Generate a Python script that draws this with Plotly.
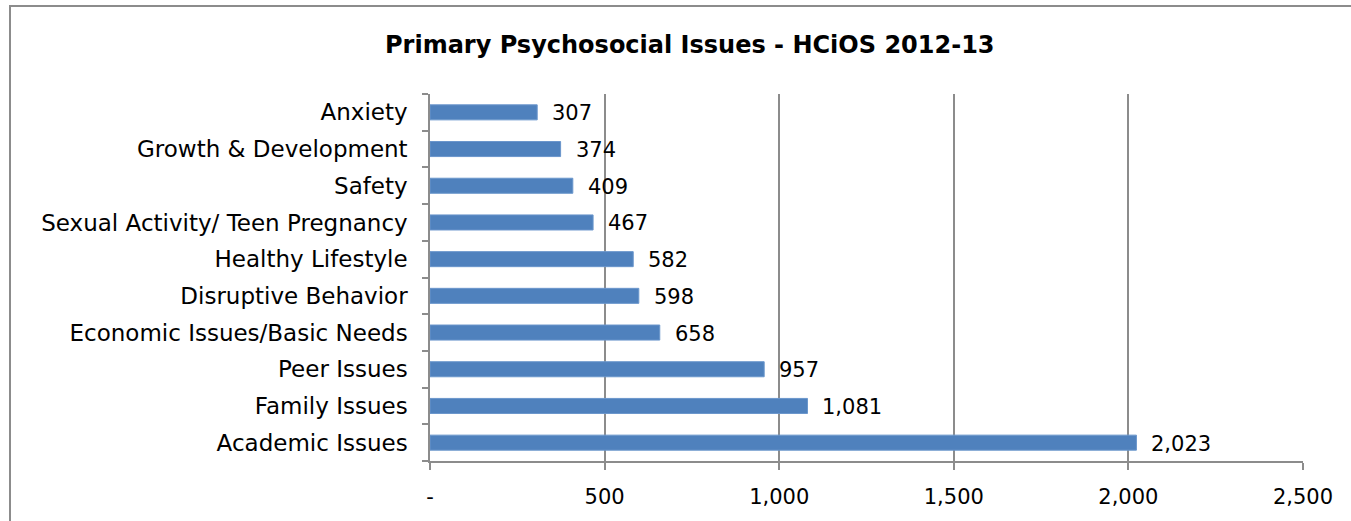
import plotly.graph_objects as go

categories = ["Academic Issues", "Family Issues", "Peer Issues", "Economic Issues/Basic Needs",
              "Disruptive Behavior", "Healthy Lifestyle", "Sexual Activity/ Teen Pregnancy",
              "Safety", "Growth & Development", "Anxiety"]
values = [2023, 1081, 957, 658, 598, 582, 467, 409, 374, 307]
tick_vals = [0, 500, 1000, 1500, 2000, 2500]
tick_text = ["-", "500", "1,000", "1,500", "2,000", "2,500"]
title_text = "Primary Psychosocial Issues - HCiOS 2012-13"

FONT = "Century Gothic, DejaVu Sans, sans-serif"
W, H = 1351, 521
L, R, T, B = 430, 48, 94, 60
pw, ph = W - L - R, H - T - B

fig = go.Figure()
fig.add_trace(go.Bar(
    y=categories, x=values, orientation="h",
    marker=dict(color="#4F81BD", line=dict(color="#6a96cc", width=1)),
    width=0.41, hoverinfo="x+y",
))

annotations = []
for c, v in zip(categories, values):
    annotations.append(dict(x=v, y=c, xref="x", yref="y", text=f"{v:,}", showarrow=False,
                            xanchor="left", yanchor="middle", xshift=13, yshift=-1,
                            font=dict(family=FONT, size=21, color="#000000")))
annotations.append(dict(x=(690 - L) / pw, y=(H - B - 45) / ph, xref="paper", yref="paper",
                        text="<b>" + title_text + "</b>", showarrow=False,
                        xanchor="center", yanchor="middle",
                        font=dict(family=FONT, size=24, color="#000000")))

fig.update_layout(
    width=W, height=H,
    margin=dict(l=L, r=R, t=T, b=B),
    paper_bgcolor="white", plot_bgcolor="white",
    showlegend=False,
    annotations=annotations,
    font=dict(family=FONT, size=20, color="#000000"),
    shapes=[dict(type="rect", xref="paper", yref="paper",
                 x0=(10 - L) / pw, x1=(W + 20 - L) / pw,
                 y0=(H - B - (H + 20)) / ph, y1=(H - B - 6) / ph,
                 line=dict(color="#8c8c8c", width=2), fillcolor="rgba(0,0,0,0)",
                 layer="below")],
    xaxis=dict(range=[0, 2500], tickvals=tick_vals, ticktext=tick_text,
               showgrid=True, gridcolor="#8c8c8c", gridwidth=1.5,
               showline=True, linecolor="#8c8c8c", linewidth=1.5,
               ticks="outside", ticklen=7, tickcolor="#8c8c8c", tickwidth=1.5,
               zeroline=False, ticklabelstandoff=9,
               tickfont=dict(family=FONT, size=21, color="#000000"), fixedrange=True),
    yaxis=dict(categoryorder="array", categoryarray=categories,
               showline=True, linecolor="#8c8c8c", linewidth=1.5,
               ticks="outside", ticklen=6, tickcolor="#8c8c8c", tickwidth=1.5,
               tickson="boundaries", showgrid=False, zeroline=False,
               ticklabelstandoff=16,
               tickfont=dict(family=FONT, size=23, color="#000000"), fixedrange=True),
)

fig.write_html("out.html")
